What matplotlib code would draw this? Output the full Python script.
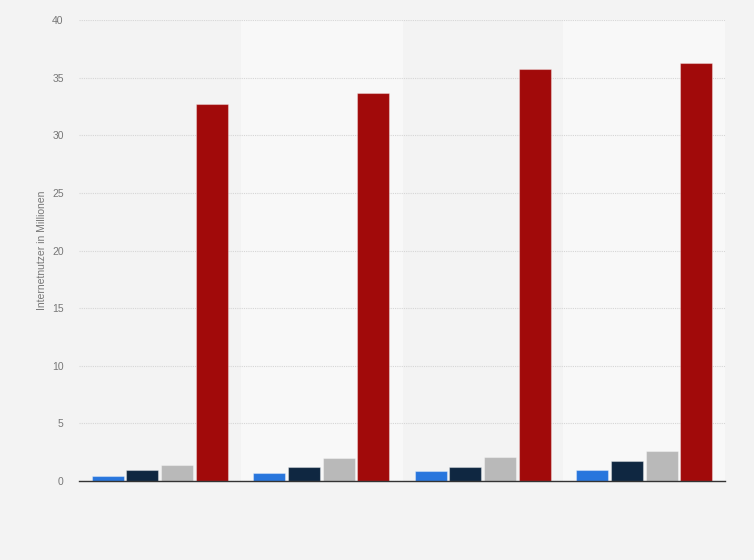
import numpy as np
import matplotlib.pyplot as plt

plt.rcParams['font.family'] = ['Liberation Sans', 'DejaVu Sans']

groups = ["1", "2", "3", "4"]
serie_blau = [0.46, 0.72, 0.84, 0.98]
serie_navy = [0.93, 1.19, 1.24, 1.73]
serie_grau = [1.41, 2.02, 2.11, 2.63]
serie_rot = [32.7, 33.65, 35.8, 36.25]

farben = ["#2876dd", "#0f2741", "#b9b9b9", "#a10a0a"]
serien = [serie_blau, serie_navy, serie_grau, serie_rot]

fig = plt.figure(figsize=(7.54, 5.6), dpi=100)
fig.patch.set_facecolor("#f3f3f3")
ax = fig.add_axes([0.1048, 0.141, 0.8567, 0.823])
ax.set_facecolor("#f3f3f3")

x = np.arange(len(groups))
breite = 0.198
schritt = 0.215

# hellere Bänder hinter jeder zweiten Gruppe
for i in x:
    if i % 2 == 1:
        ax.axvspan(i - 0.5, i + 0.5, color="#f8f8f8", zorder=0)

for k, (werte, farbe) in enumerate(zip(serien, farben)):
    ax.bar(x + (k - 1.5) * schritt, werte, width=breite, color=farbe,
           edgecolor=(1, 1, 1, 0.35), linewidth=0.8, zorder=3)

ax.set_xlim(-0.5, len(groups) - 0.5)
ax.set_ylim(0, 40)
ax.set_yticks(np.arange(0, 41, 5))
ax.set_xticks([])
ax.yaxis.grid(True, linestyle=(0, (1, 1)), color="#d6d6d6", linewidth=0.8, zorder=1)
ax.tick_params(axis="y", length=0, labelsize=7.5, labelcolor="#777777", pad=11)

for s in ["top", "right", "left"]:
    ax.spines[s].set_visible(False)
ax.spines["bottom"].set_color("#333333")
ax.spines["bottom"].set_linewidth(1)
ax.spines["bottom"].set_zorder(4)

ax.set_ylabel("Internetnutzer in Millionen", fontsize=7.5, color="#777777", labelpad=4)

fig.savefig("out.png", dpi=100, facecolor=fig.get_facecolor())
